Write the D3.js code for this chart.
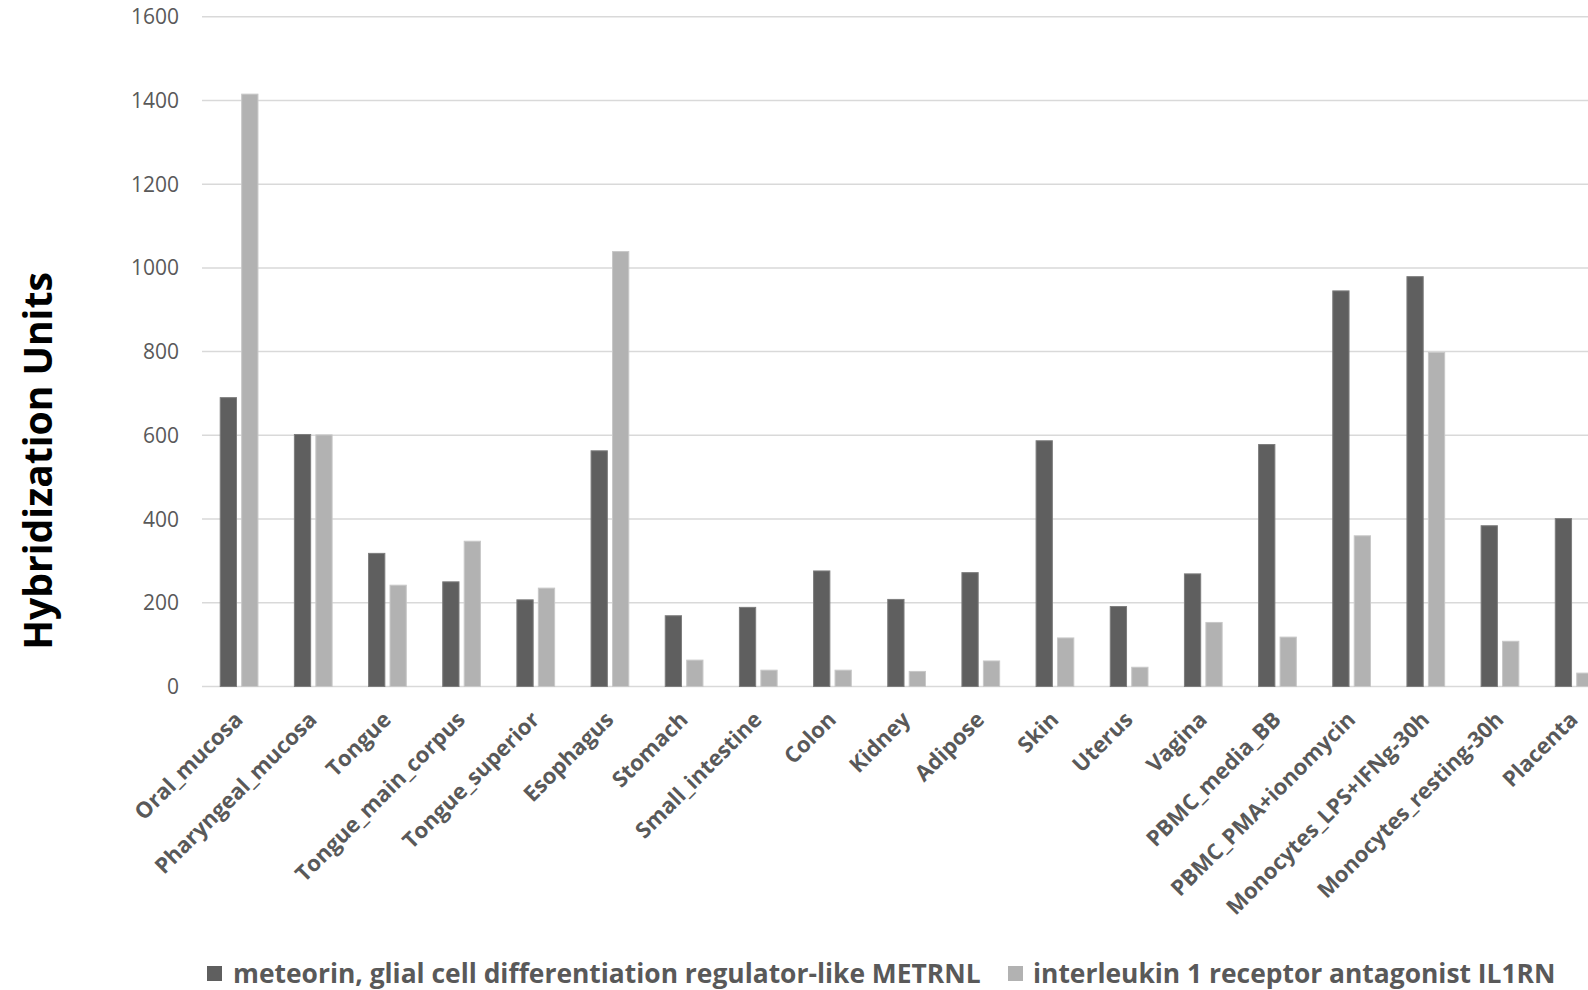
<!DOCTYPE html>
<html><head><meta charset="utf-8">
<script src="https://cdn.jsdelivr.net/npm/d3@7"></script>
<style>body{margin:0;background:#fff;overflow:hidden}svg{display:block}</style>
</head><body>
<script>
const categories = ["Oral_mucosa","Pharyngeal_mucosa","Tongue","Tongue_main_corpus","Tongue_superior","Esophagus","Stomach","Small_intestine","Colon","Kidney","Adipose","Skin","Uterus","Vagina","PBMC_media_BB","PBMC_PMA+ionomycin","Monocytes_LPS+IFNg-30h","Monocytes_resting-30h","Placenta"];
const seriesNames = ["meteorin, glial cell differentiation regulator-like METRNL","interleukin 1 receptor antagonist IL1RN"];
const metrnl = [690,602,318,250,207,563,169,189,276,208,272,587,191,269,578,945,979,384,401];
const il1rn = [1415,601,242,347,235,1039,63,39,39,36,61,116,46,153,118,360,798,108,32];
const yTicks = [0,200,400,600,800,1000,1200,1400,1600];
const colors = ["#5f5f5f","#b2b2b2"];
const strokes = ["#7d7d7d","#c8c8c8"];

const W = 1588, H = 990;
const svg = d3.select("body").append("svg").attr("width",W).attr("height",H);

const x0 = d3.scaleBand().domain(categories).range([202, 202 + 19*74.17]).padding(0);
const x1 = d3.scaleBand().domain([0,1]).range([0, x0.bandwidth()]).paddingInner(0.242).paddingOuter(0.849);
const y = d3.scaleLinear().domain([0,1600]).range([686.5, 16.7]);

// gridlines
svg.append("g").selectAll("line").data(yTicks).join("line")
  .attr("x1",202).attr("x2",W).attr("y1",d=>y(d)).attr("y2",d=>y(d))
  .attr("stroke","#d9d9d9").attr("stroke-width",1.5);

// y tick labels
svg.append("g").selectAll("text").data(yTicks).join("text")
  .attr("x",179).attr("y",d=>y(d)).attr("dy","0.36em")
  .attr("text-anchor","end").attr("font-family","Open Sans").attr("font-size",21)
  .attr("fill","#595959").text(d=>d);

// bars
const series = [metrnl, il1rn];
series.forEach((vals, si) => {
  svg.append("g").selectAll("rect").data(categories).join("rect")
    .attr("x",(c)=>x0(c)+x1(si)).attr("width",x1.bandwidth())
    .attr("y",(c,i)=>y(vals[i])).attr("height",(c,i)=>y(0)-y(vals[i]))
    .attr("fill",colors[si]).attr("stroke",strokes[si]).attr("stroke-width",1);
});

// x labels
svg.append("g").selectAll("text").data(categories).join("text")
  .attr("transform",c=>`translate(${x0(c)+x0.bandwidth()/2+5},${721}) rotate(-45)`)
  .attr("text-anchor","end").attr("font-family","Open Sans").attr("font-weight","bold")
  .attr("font-size",22).attr("fill","#595959").text(c=>c);

// y axis title
svg.append("text").attr("transform","translate(52,461) rotate(-90)")
  .attr("text-anchor","middle").attr("font-family","Open Sans").attr("font-weight","bold")
  .attr("font-size",39).attr("fill","#000").text("Hybridization Units");

// legend
const leg = [{x:207, tx:233},{x:1008, tx:1033}];
leg.forEach((l,i)=>{
  svg.append("rect").attr("x",l.x).attr("y",966).attr("width",15).attr("height",15).attr("fill",colors[i]);
  svg.append("text").attr("x",l.tx).attr("y",974).attr("dy","0.35em")
    .attr("font-family","Open Sans").attr("font-weight","bold").attr("font-size",26.4)
    .attr("fill","#595959").text(seriesNames[i]);
});
</script>
</body></html>
